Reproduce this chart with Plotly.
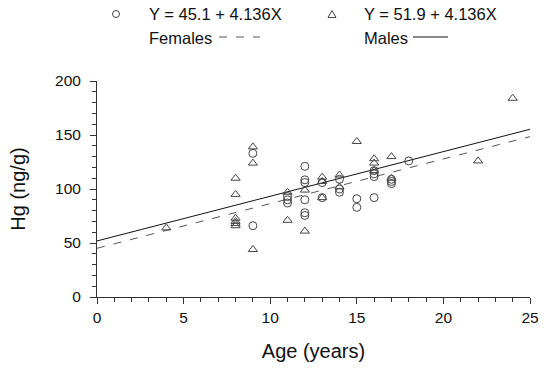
import plotly.graph_objects as go

# Females (circles)
f_age = [9, 9, 11, 11, 11, 12, 12, 12, 12, 12, 12, 13, 13, 14, 14, 14, 15, 15,
         16, 16, 16, 16, 17, 17, 17, 18]
f_hg = [133, 66, 93, 90, 87, 121, 108.5, 106, 90, 78, 75.5, 106, 92, 109, 100, 97, 91, 83,
        117, 114, 111.5, 92, 109, 107, 105, 126]

# Males (triangles)
m_age = [4, 8, 8, 8, 8, 8, 8, 9, 9, 9, 11, 11, 12, 12, 13, 13, 13, 14, 14, 15,
         16, 16, 16, 17, 17, 22, 24]
m_hg = [64, 110, 95, 73, 70, 68, 66, 139, 124, 44, 97, 71, 99, 61, 111, 107, 92, 113, 102, 144,
        128, 124, 117, 130, 110, 126, 184]

# Regression fits
fit_x = [0, 25]
f_int, f_slope = 45.1, 4.136
m_int, m_slope = 51.9, 4.136
f_fit = [f_int + f_slope * x for x in fit_x]
m_fit = [m_int + m_slope * x for x in fit_x]

legend_f = "Y = 45.1 + 4.136X"
legend_m = "Y = 51.9 + 4.136X"

FONT = "Liberation Sans, Arial, sans-serif"
W, H = 550, 370
L, R, T, B = 97, 20, 81, 73
pw, ph = W - L - R, H - T - B

def px(x):
    return (x - L) / pw

def py(y):
    return (H - B - y) / ph

fig = go.Figure()
fig.add_trace(go.Scatter(x=fit_x, y=f_fit, mode="lines",
                         line=dict(color="#555555", width=1, dash="8px,9px"),
                         showlegend=False, hoverinfo="skip"))
fig.add_trace(go.Scatter(x=fit_x, y=m_fit, mode="lines",
                         line=dict(color="#111111", width=1),
                         showlegend=False, hoverinfo="skip"))
fig.add_trace(go.Scatter(x=f_age, y=f_hg, mode="markers",
                         marker=dict(symbol="circle-open", size=8, color="#444444",
                                     line=dict(width=1, color="#444444")),
                         showlegend=False))
fig.add_trace(go.Scatter(x=m_age, y=m_hg, mode="markers",
                         marker=dict(symbol="triangle-up-open", size=8, color="#444444",
                                     line=dict(width=1, color="#444444")),
                         showlegend=False))

axis_common = dict(
    showgrid=False, zeroline=False, showline=True, linecolor="#333333", linewidth=1,
    ticks="outside", ticklen=6, tickwidth=1, tickcolor="#333333",
    tickfont=dict(family=FONT, size=15.5, color="#111111"),
)
fig.update_xaxes(range=[0, 25], tickvals=[0, 5, 10, 15, 20, 25],
                 minor=dict(dtick=1, ticks="outside", ticklen=4, tickcolor="#333333"),
                 title=dict(text="Age (years)", font=dict(family=FONT, size=20, color="#111111"),
                            standoff=19),
                 **axis_common)
fig.update_yaxes(range=[0, 200], tickvals=[0, 50, 100, 150, 200],
                 minor=dict(dtick=10, ticks="outside", ticklen=4, tickcolor="#333333"),
                 title=dict(text="Hg (ng/g)", font=dict(family=FONT, size=20, color="#111111"),
                            standoff=24),
                 ticklabelstandoff=6,
                 **axis_common)

# Custom legend
lf = dict(family=FONT, size=16.5, color="#111111")
annos = [
    (147, 14, legend_f), (362, 14, legend_m),
    (147, 38, "Females"), (362, 38, "Males"),
]
for x0, y0, t in annos:
    fig.add_annotation(x=px(x0), y=py(y0), xref="paper", yref="paper", text=t,
                       showarrow=False, xanchor="left", yanchor="middle", font=lf)
shapes = [
    dict(type="circle", xref="paper", yref="paper", x0=px(112.5), x1=px(119.5),
         y0=py(17.5), y1=py(10.5), line=dict(color="#444444", width=1)),
    dict(type="path", xref="paper", yref="paper",
         path=f"M {px(328)} {py(17.5)} L {px(336)} {py(17.5)} L {px(332)} {py(10.5)} Z",
         line=dict(color="#444444", width=1)),
    dict(type="line", xref="paper", yref="paper", x0=px(219), x1=px(260),
         y0=py(37), y1=py(37), line=dict(color="#555555", width=1, dash="8px,9px")),
    dict(type="line", xref="paper", yref="paper", x0=px(413), x1=px(448),
         y0=py(37), y1=py(37), line=dict(color="#111111", width=1)),
]
fig.update_layout(
    width=W, height=H,
    margin=dict(l=L, r=R, t=T, b=B, autoexpand=False),
    paper_bgcolor="white", plot_bgcolor="white",
    shapes=shapes, showlegend=False,
)
fig.write_html("out.html", config={"displayModeBar": False},
               post_script="document.body.style.margin='0';document.body.style.padding='0';")
